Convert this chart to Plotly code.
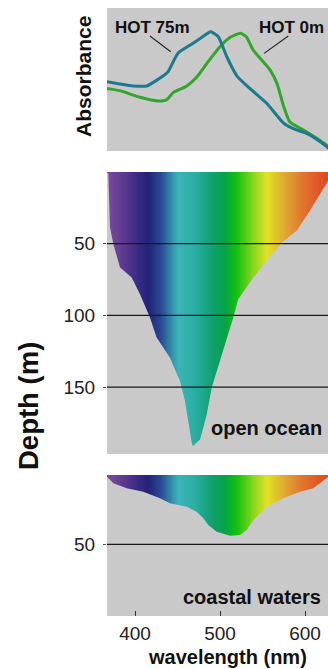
import numpy as np
import plotly.graph_objects as go
from plotly.subplots import make_subplots

# ---------------- data ----------------
# Absorbance spectra (arbitrary units, 0..1)
wl_hot75 = [367, 382, 398, 414, 421, 433, 439, 445, 451, 465, 477, 489, 498, 508, 520, 535, 555, 575, 590, 602, 618, 628]
abs_hot75 = [0.485, 0.469, 0.455, 0.455, 0.478, 0.524, 0.555, 0.624, 0.687, 0.741, 0.788, 0.834, 0.799, 0.659, 0.524, 0.438, 0.334, 0.194, 0.147, 0.124, 0.065, 0.019]
wl_hot0 = [367, 382, 406, 427, 437, 445, 461, 473, 486, 500, 512, 524, 531, 539, 559, 567, 575, 582, 598, 614, 628]
abs_hot0 = [0.438, 0.422, 0.376, 0.350, 0.357, 0.408, 0.455, 0.520, 0.624, 0.729, 0.795, 0.823, 0.799, 0.706, 0.566, 0.473, 0.310, 0.205, 0.147, 0.089, 0.030]

# Light penetration boundary (depth in m reached at each wavelength)
open_wl = [366, 368.6, 370.6, 374.5, 382.4, 396.1, 405.9, 417.6, 425.5, 441.2, 452.9, 458.8, 466.7, 467.9,
           476.5, 484.4, 490.2, 500.0, 515.6, 521.5, 539.2, 554.9, 572.6, 590.2, 605.9, 627.4, 630]
open_depth = [0, 1.3, 38.6, 50.2, 66.6, 73.6, 85.2, 101.5, 115.5, 129.5, 145.8, 159.8, 188.5, 191.3,
              186.6, 169.1, 150.5, 131.8, 101.5, 88.7, 73.6, 61.9, 49.1, 40.9, 26.9, 5.9, 2.0]
coast_wl = [365, 366.7, 374.5, 390.2, 409.8, 429.4, 441.2, 460.8, 472.5, 480.4, 486.2, 496.1, 511.8, 523.5,
            531.4, 539.2, 554.9, 574.5, 594.1, 609.8, 627.4, 630]
coast_depth = [0, 1.2, 6.0, 9.6, 12.0, 16.8, 20.4, 22.9, 26.5, 31.2, 36.1, 40.9, 43.8, 43.3,
               39.7, 32.5, 22.9, 16.8, 12.0, 9.6, 1.2, 0]

x_ticks = [400, 500, 600]
open_ticks = [50, 100, 150]
coast_ticks = [50]

# spectral colour ramp (wavelength -> colour)
spectrum_wl = [360, 367, 385, 415, 430, 450, 470, 490, 505, 518, 540, 555, 575, 595, 628, 640]
spectrum_col = ["#7b4b9b", "#7b4b9b", "#5e3a91", "#22217a", "#2a4a92", "#3bb3b8", "#2aaea2", "#10a070",
                "#06a24a", "#10c010", "#90d820", "#e2e223", "#e0aa30", "#e07830", "#e04420", "#e04420"]

# ---------------- style ----------------
GRAY = "#c9c9c9"
FONT = "Liberation Sans, Arial, Helvetica, sans-serif"
TEAL = "#1c7a8e"
GREEN = "#33a52c"
XR = [367.06, 627.06]
OPEN_RANGE = [196.7, 0]
COAST_RANGE = [101.7, 0]

W, H = 328, 669
ML, MR, MT, MB = 107, 0, 8, H - 616
PH = H - MT - MB
PW = W - ML - MR

def sx(px):  # screen x pixel -> paper
    return (px - ML) / PW

def sy(py):  # screen y pixel -> paper
    return (H - MB - py) / PH

fig = make_subplots(rows=3, cols=1)

# --- top: absorbance
fig.add_trace(go.Scatter(x=wl_hot0, y=abs_hot0, mode="lines",
                         line=dict(color=GREEN, width=3, shape="spline", smoothing=0.5),
                         showlegend=False, hoverinfo="skip"), row=1, col=1)
fig.add_trace(go.Scatter(x=wl_hot75, y=abs_hot75, mode="lines",
                         line=dict(color=TEAL, width=3, shape="spline", smoothing=0.5),
                         showlegend=False, hoverinfo="skip"), row=1, col=1)

# colour scale for the spectrum
lo, hi = spectrum_wl[0], spectrum_wl[-1]
cscale = [[(w - lo) / (hi - lo), c] for w, c in zip(spectrum_wl, spectrum_col)]
ramp = np.arange(lo, hi + 1, 1.0)

def spectrum_panel(row, depth_max, wl, depth):
    fig.add_trace(go.Heatmap(x=ramp, y=[-20, depth_max + 50], z=[ramp, ramp], colorscale=cscale,
                             zmin=lo, zmax=hi, showscale=False, hoverinfo="skip", zsmooth="best"),
                  row=row, col=1)
    bottom = depth_max + 60
    fig.add_trace(go.Scatter(x=list(wl) + [hi + 5, lo - 5, lo - 5], y=list(depth) + [bottom, bottom, depth[0]],
                             mode="lines", fill="toself", fillcolor=GRAY, line=dict(width=0, color=GRAY),
                             showlegend=False, hoverinfo="skip"), row=row, col=1)

spectrum_panel(2, OPEN_RANGE[0], open_wl, open_depth)
spectrum_panel(3, COAST_RANGE[0], coast_wl, coast_depth)

# grid lines drawn above the fill
for t in open_ticks:
    fig.add_shape(type="line", xref="x2 domain", x0=0, x1=1, yref="y2", y0=t, y1=t,
                  line=dict(color="#1a1a1a", width=1.3), layer="above")
for t in coast_ticks:
    fig.add_shape(type="line", xref="x3 domain", x0=0, x1=1, yref="y3", y0=t, y1=t,
                  line=dict(color="#1a1a1a", width=1.3), layer="above")

# leader lines for labels
fig.add_shape(type="line", xref="x", yref="y", x0=417.6, y0=0.804, x1=442.0, y1=0.694, line=dict(color="#222", width=1.1))
fig.add_shape(type="line", xref="x", yref="y", x0=580.4, y0=0.804, x1=551.8, y1=0.683, line=dict(color="#222", width=1.1))

def label(text, x, y, xref, yref, size, xanchor="center", angle=0):
    fig.add_annotation(text=text, x=x, y=y, xref=xref, yref=yref, xanchor=xanchor, yanchor="middle",
                       showarrow=False, textangle=angle, font=dict(family=FONT, size=size, color="#111"))

label("<b>HOT 75m</b>", 420.6, 0.867, "x", "y", 17)
label("<b>HOT 0m</b>", 584.7, 0.867, "x", "y", 17)
label("<b>open ocean</b>", 487.5, 178.7, "x2", "y2", 20, xanchor="left")
label("<b>coastal waters</b>", 454.5, 88, "x3", "y3", 20, xanchor="left")
label("<b>Absorbance</b>", sx(83), sy(77), "paper", "paper", 21, angle=-90)
label("<b>Depth (m)</b>", sx(28), sy(406), "paper", "paper", 27.5, angle=-90)
label("<b>wavelength (nm)</b>", sx(227), sy(657), "paper", "paper", 20)

fig.update_layout(
    width=W, height=H, margin=dict(l=ML, r=MR, t=MT, b=MB, pad=0),
    paper_bgcolor="white", plot_bgcolor=GRAY, showlegend=False,
    font=dict(family=FONT, size=19, color="#222"),
)

common_x = dict(range=XR, showgrid=False, zeroline=False, showline=False)
fig.update_layout(
    xaxis=dict(**common_x, showticklabels=False, ticks=""),
    xaxis2=dict(**common_x, showticklabels=False, ticks=""),
    xaxis3=dict(**common_x, tickvals=x_ticks, ticks="inside", ticklen=5, tickcolor="#333", tickwidth=1,
                ticklabelstandoff=4, tickfont=dict(family=FONT, size=19, color="#222")),
    yaxis=dict(range=[0, 1], domain=[sy(151), sy(8)], showgrid=False, zeroline=False,
               showticklabels=False, ticks=""),
    yaxis2=dict(range=OPEN_RANGE, domain=[sy(454), sy(172)], showgrid=False, zeroline=False,
                tickvals=open_ticks, ticks="outside", ticklen=3, tickcolor="#555", ticklabelstandoff=4,
                tickfont=dict(family=FONT, size=19, color="#222")),
    yaxis3=dict(range=COAST_RANGE, domain=[sy(616), sy(475)], showgrid=False, zeroline=False,
                tickvals=coast_ticks, ticks="outside", ticklen=3, tickcolor="#555", ticklabelstandoff=4,
                tickfont=dict(family=FONT, size=19, color="#222")),
)

fig.write_html("out.html", config={"displayModeBar": False},
               post_script="document.body.style.margin='0';document.body.style.padding='0';"
                           "document.documentElement.style.overflow='hidden';document.body.style.overflow='hidden';")
